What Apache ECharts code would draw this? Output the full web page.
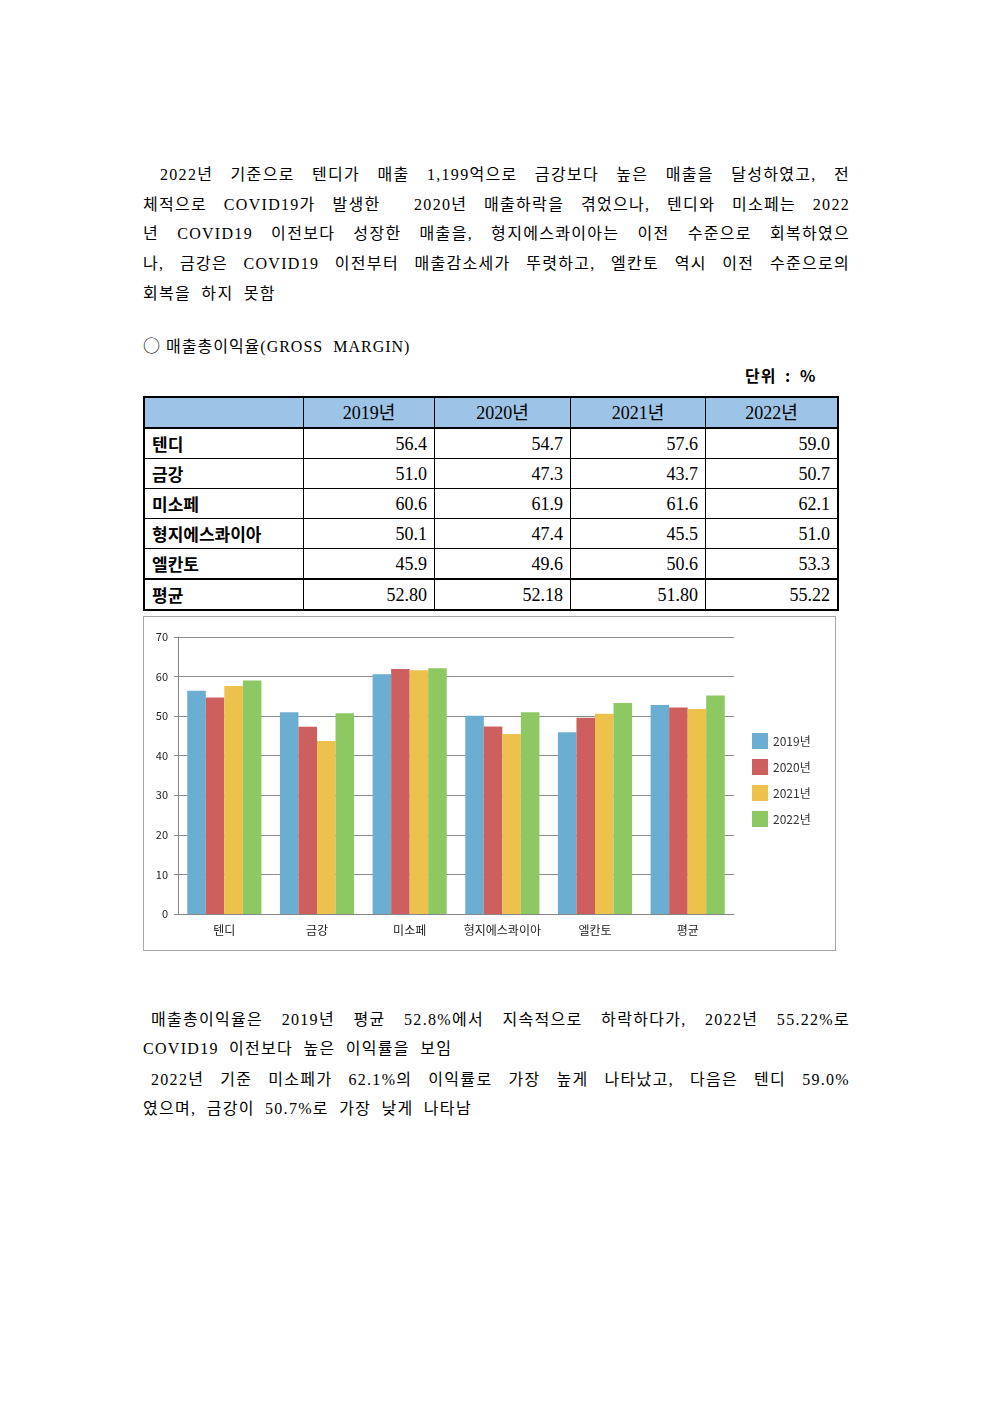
<!DOCTYPE html>
<html>
<head>
<meta charset="utf-8">
<script src="https://cdn.jsdelivr.net/npm/echarts@6/dist/echarts.min.js"></script>
<style>
  body { margin: 0; background: #fff; }
  #page { position: relative; width: 992px; height: 1403px; font-family: "Liberation Serif", "Noto Sans CJK KR", serif; color: #000; }
  .ln { position: absolute; left: 143px; width: 707px; height: 30px; line-height: 30px; font-size: 16px; white-space: nowrap; letter-spacing: 1.3px; word-spacing: 5px; }
  .j { text-align: justify; text-align-last: justify; white-space: normal; word-spacing: 0; }
  #tbl { position: absolute; left: 143px; top: 396px; width: 693px; border-collapse: collapse; table-layout: fixed; font-size: 18px; border: 2px solid #000; }
  #tbl td { border: 1px solid #000; height: 29px; line-height: 20px; padding: 0 7px; }
  #tbl tr.hd td { background: #9dc3e6; text-align: center; border-bottom: 2px solid #000; }
  #tbl td.n { text-align: right; }
  #tbl td.c { font-weight: bold; font-size: 17px; font-family: "Noto Sans CJK KR", sans-serif; }
  #tbl tr.avg td { border-top: 2px solid #000; }
  #box { position: absolute; left: 143px; top: 616px; width: 691px; height: 333px; border: 1px solid #a6a6a6; }
  #chart { width: 691px; height: 333px; }
</style>
</head>
<body>
<div id="page">
  <div class="ln j" style="top:160px;padding-left:17px;width:690px;">2022년 기준으로 텐디가 매출 1,199억으로 금강보다 높은 매출을 달성하였고, 전</div>
  <div class="ln j" style="top:190px;">체적으로 COVID19가 발생한&nbsp; 2020년 매출하락을 겪었으나, 텐디와 미소페는 2022</div>
  <div class="ln j" style="top:219px;">년 COVID19 이전보다 성장한 매출을, 형지에스콰이아는 이전 수준으로 회복하였으</div>
  <div class="ln j" style="top:249px;">나, 금강은 COVID19 이전부터 매출감소세가 뚜렷하고, 엘칸토 역시 이전 수준으로의</div>
  <div class="ln" style="top:279px;">회복을 하지 못함</div>

  <div class="ln" style="top:330px;letter-spacing:1px;word-spacing:0;"><span style="font-family:'Noto Sans CJK KR';font-size:17px;">○</span> 매출총이익율(GROSS&nbsp; MARGIN)</div>
  <div class="ln" style="top:360px;left:745px;width:80px;font-weight:bold;font-family:'Noto Sans CJK KR',sans-serif;letter-spacing:1px;word-spacing:4px;">단위 : %</div>

  <table id="tbl"></table>

  <div id="box"><div id="chart"></div></div>

  <div class="ln j" style="top:1005px;padding-left:8px;width:699px;">매출총이익율은 2019년 평균 52.8%에서 지속적으로 하락하다가, 2022년 55.22%로</div>
  <div class="ln" style="top:1034px;">COVID19 이전보다 높은 이익률을 보임</div>
  <div class="ln j" style="top:1065px;padding-left:8px;width:699px;">2022년 기준 미소페가 62.1%의 이익률로 가장 높게 나타났고, 다음은 텐디 59.0%</div>
  <div class="ln" style="top:1094px;">였으며, 금강이 50.7%로 가장 낮게 나타남</div>
</div>
<script>
const years = ['2019년', '2020년', '2021년', '2022년']
const companies = ['텐디', '금강', '미소페', '형지에스콰이아', '엘칸토', '평균']
const v2019 = [56.4, 51.0, 60.6, 50.1, 45.9, 52.80]
const v2020 = [54.7, 47.3, 61.9, 47.4, 49.6, 52.18]
const v2021 = [57.6, 43.7, 61.6, 45.5, 50.6, 51.80]
const v2022 = [59.0, 50.7, 62.1, 51.0, 53.3, 55.22]
const colors = ['#6baed2', '#cd5f5f', '#ecc24c', '#8dc862']
const yTicks = [0, 10, 20, 30, 40, 50, 60, 70]

// table
const colW = [159, 131, 136, 135, 132]
const tbl = document.getElementById('tbl')
let html = '<tr class="hd">'
;[''].concat(years).forEach((y, i) => { html += '<td style="width:' + (colW[i] - 15) + 'px">' + y + '</td>' })
html += '</tr>'
const all = [v2019, v2020, v2021, v2022]
companies.forEach((c, r) => {
    const isAvg = r === companies.length - 1
    html += '<tr' + (isAvg ? ' class="avg"' : '') + '><td class="c">' + c + '</td>'
    all.forEach((arr) => {
        html += '<td class="n">' + (isAvg ? arr[r].toFixed(2) : arr[r].toFixed(1)) + '</td>'
    })
    html += '</tr>'
})
tbl.innerHTML = html

// chart
const myChart = echarts.init(document.getElementById('chart'))
const seriesData = [v2019, v2020, v2021, v2022]
myChart.setOption({
    animation: false,
    color: colors,
    textStyle: { fontFamily: 'Noto Sans CJK KR, sans-serif' },
    grid: { left: 34, top: 20, width: 556, height: 277 },
    legend: {
        orient: 'vertical',
        left: 608,
        top: 116,
        padding: 0,
        itemWidth: 16,
        itemHeight: 16,
        itemGap: 10,
        icon: 'rect',
        textStyle: { fontSize: 12, color: '#333' },
        data: years
    },
    xAxis: {
        type: 'category',
        data: companies,
        axisLine: { lineStyle: { color: '#868686' } },
        axisTick: { show: false },
        axisLabel: { interval: 0, fontSize: 12, color: '#222', margin: 10 }
    },
    yAxis: {
        type: 'value',
        min: yTicks[0],
        max: yTicks[yTicks.length - 1],
        interval: 10,
        axisLine: { show: true, lineStyle: { color: '#868686' } },
        axisTick: { show: true, length: 4, lineStyle: { color: '#868686' } },
        splitLine: { lineStyle: { color: '#8c8c8c' } },
        axisLabel: { fontSize: 11, color: '#222', margin: 10 }
    },
    series: years.map((y, i) => ({
        name: y,
        type: 'bar',
        data: seriesData[i],
        barGap: 0,
        barCategoryGap: '20%'
    }))
})
</script>
</body>
</html>
